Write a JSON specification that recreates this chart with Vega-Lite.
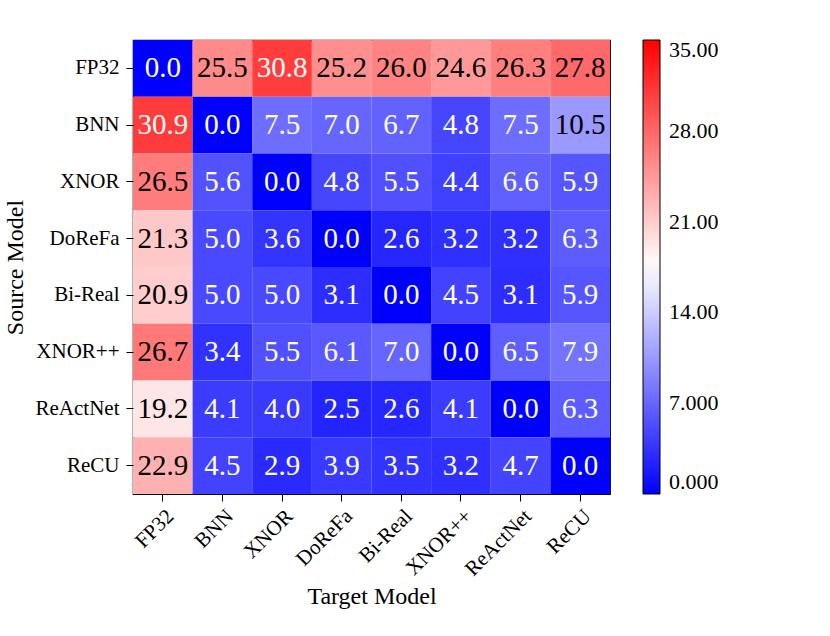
{
  "$schema": "https://vega.github.io/schema/vega-lite/v6.json",
  "width": 477,
  "height": 454,
  "autosize": "none",
  "padding": {"left": 133, "top": 40, "right": 220, "bottom": 142},
  "background": "white",
  "config": {
    "font": "Liberation Serif",
    "view": {"stroke": "black", "strokeWidth": 1.2}
  },
  "data": {
    "values": [
      {"src": "FP32", "tgt": "FP32", "v": 0.0}, {"src": "FP32", "tgt": "BNN", "v": 25.5}, {"src": "FP32", "tgt": "XNOR", "v": 30.8}, {"src": "FP32", "tgt": "DoReFa", "v": 25.2}, {"src": "FP32", "tgt": "Bi-Real", "v": 26.0}, {"src": "FP32", "tgt": "XNOR++", "v": 24.6}, {"src": "FP32", "tgt": "ReActNet", "v": 26.3}, {"src": "FP32", "tgt": "ReCU", "v": 27.8},
      {"src": "BNN", "tgt": "FP32", "v": 30.9}, {"src": "BNN", "tgt": "BNN", "v": 0.0}, {"src": "BNN", "tgt": "XNOR", "v": 7.5}, {"src": "BNN", "tgt": "DoReFa", "v": 7.0}, {"src": "BNN", "tgt": "Bi-Real", "v": 6.7}, {"src": "BNN", "tgt": "XNOR++", "v": 4.8}, {"src": "BNN", "tgt": "ReActNet", "v": 7.5}, {"src": "BNN", "tgt": "ReCU", "v": 10.5},
      {"src": "XNOR", "tgt": "FP32", "v": 26.5}, {"src": "XNOR", "tgt": "BNN", "v": 5.6}, {"src": "XNOR", "tgt": "XNOR", "v": 0.0}, {"src": "XNOR", "tgt": "DoReFa", "v": 4.8}, {"src": "XNOR", "tgt": "Bi-Real", "v": 5.5}, {"src": "XNOR", "tgt": "XNOR++", "v": 4.4}, {"src": "XNOR", "tgt": "ReActNet", "v": 6.6}, {"src": "XNOR", "tgt": "ReCU", "v": 5.9},
      {"src": "DoReFa", "tgt": "FP32", "v": 21.3}, {"src": "DoReFa", "tgt": "BNN", "v": 5.0}, {"src": "DoReFa", "tgt": "XNOR", "v": 3.6}, {"src": "DoReFa", "tgt": "DoReFa", "v": 0.0}, {"src": "DoReFa", "tgt": "Bi-Real", "v": 2.6}, {"src": "DoReFa", "tgt": "XNOR++", "v": 3.2}, {"src": "DoReFa", "tgt": "ReActNet", "v": 3.2}, {"src": "DoReFa", "tgt": "ReCU", "v": 6.3},
      {"src": "Bi-Real", "tgt": "FP32", "v": 20.9}, {"src": "Bi-Real", "tgt": "BNN", "v": 5.0}, {"src": "Bi-Real", "tgt": "XNOR", "v": 5.0}, {"src": "Bi-Real", "tgt": "DoReFa", "v": 3.1}, {"src": "Bi-Real", "tgt": "Bi-Real", "v": 0.0}, {"src": "Bi-Real", "tgt": "XNOR++", "v": 4.5}, {"src": "Bi-Real", "tgt": "ReActNet", "v": 3.1}, {"src": "Bi-Real", "tgt": "ReCU", "v": 5.9},
      {"src": "XNOR++", "tgt": "FP32", "v": 26.7}, {"src": "XNOR++", "tgt": "BNN", "v": 3.4}, {"src": "XNOR++", "tgt": "XNOR", "v": 5.5}, {"src": "XNOR++", "tgt": "DoReFa", "v": 6.1}, {"src": "XNOR++", "tgt": "Bi-Real", "v": 7.0}, {"src": "XNOR++", "tgt": "XNOR++", "v": 0.0}, {"src": "XNOR++", "tgt": "ReActNet", "v": 6.5}, {"src": "XNOR++", "tgt": "ReCU", "v": 7.9},
      {"src": "ReActNet", "tgt": "FP32", "v": 19.2}, {"src": "ReActNet", "tgt": "BNN", "v": 4.1}, {"src": "ReActNet", "tgt": "XNOR", "v": 4.0}, {"src": "ReActNet", "tgt": "DoReFa", "v": 2.5}, {"src": "ReActNet", "tgt": "Bi-Real", "v": 2.6}, {"src": "ReActNet", "tgt": "XNOR++", "v": 4.1}, {"src": "ReActNet", "tgt": "ReActNet", "v": 0.0}, {"src": "ReActNet", "tgt": "ReCU", "v": 6.3},
      {"src": "ReCU", "tgt": "FP32", "v": 22.9}, {"src": "ReCU", "tgt": "BNN", "v": 4.5}, {"src": "ReCU", "tgt": "XNOR", "v": 2.9}, {"src": "ReCU", "tgt": "DoReFa", "v": 3.9}, {"src": "ReCU", "tgt": "Bi-Real", "v": 3.5}, {"src": "ReCU", "tgt": "XNOR++", "v": 3.2}, {"src": "ReCU", "tgt": "ReActNet", "v": 4.7}, {"src": "ReCU", "tgt": "ReCU", "v": 0.0}
    ]
  },
  "encoding": {
    "x": {
      "field": "tgt", "type": "nominal",
      "sort": ["FP32", "BNN", "XNOR", "DoReFa", "Bi-Real", "XNOR++", "ReActNet", "ReCU"],
      "scale": {"paddingInner": 0, "paddingOuter": 0},
      "axis": {
        "title": "Target Model", "titleFontSize": 24, "titleFontWeight": "normal", "titleColor": "black", "titlePadding": 5,
        "labelFontSize": 21, "labelColor": "black", "labelAngle": -45, "labelPadding": 4,
        "tickColor": "black", "tickSize": 7, "domain": false, "grid": false
      }
    },
    "y": {
      "field": "src", "type": "nominal",
      "sort": ["FP32", "BNN", "XNOR", "DoReFa", "Bi-Real", "XNOR++", "ReActNet", "ReCU"],
      "scale": {"paddingInner": 0, "paddingOuter": 0},
      "axis": {
        "title": "Source Model", "titleFontSize": 24, "titleFontWeight": "normal", "titleColor": "black", "titlePadding": 8,
        "labelFontSize": 21, "labelColor": "black", "labelPadding": 7,
        "tickColor": "black", "tickSize": 7, "domain": false, "grid": false
      }
    }
  },
  "layer": [
    {
      "mark": {"type": "rect"},
      "encoding": {
        "color": {
          "field": "v", "type": "quantitative",
          "scale": {"domain": [0, 17.5, 35], "range": ["#0000ff", "#ffffff", "#ff0000"], "interpolate": "rgb"},
          "legend": {
            "title": null, "orient": "none", "legendX": 510, "legendY": 0,
            "direction": "vertical", "gradientLength": 454, "gradientThickness": 17,
            "gradientStrokeColor": "black", "gradientStrokeWidth": 1,
            "values": [0, 7, 14, 21, 28, 35],
            "labelExpr": "datum.value < 10 ? format(datum.value, '.3f') : format(datum.value, '.2f')",
            "labelFontSize": 22, "labelColor": "black", "labelOffset": 9, "labelBaseline": "middle",
            "labelOverlap": false
          }
        }
      }
    },
    {
      "mark": {"type": "text", "fontSize": 29, "baseline": "middle", "align": "center"},
      "encoding": {
        "text": {"field": "v", "type": "quantitative", "format": ".1f"},
        "color": {"condition": {"test": "datum.v < 9 || datum.v > 29", "value": "white"}, "value": "black"}
      }
    }
  ]
}
